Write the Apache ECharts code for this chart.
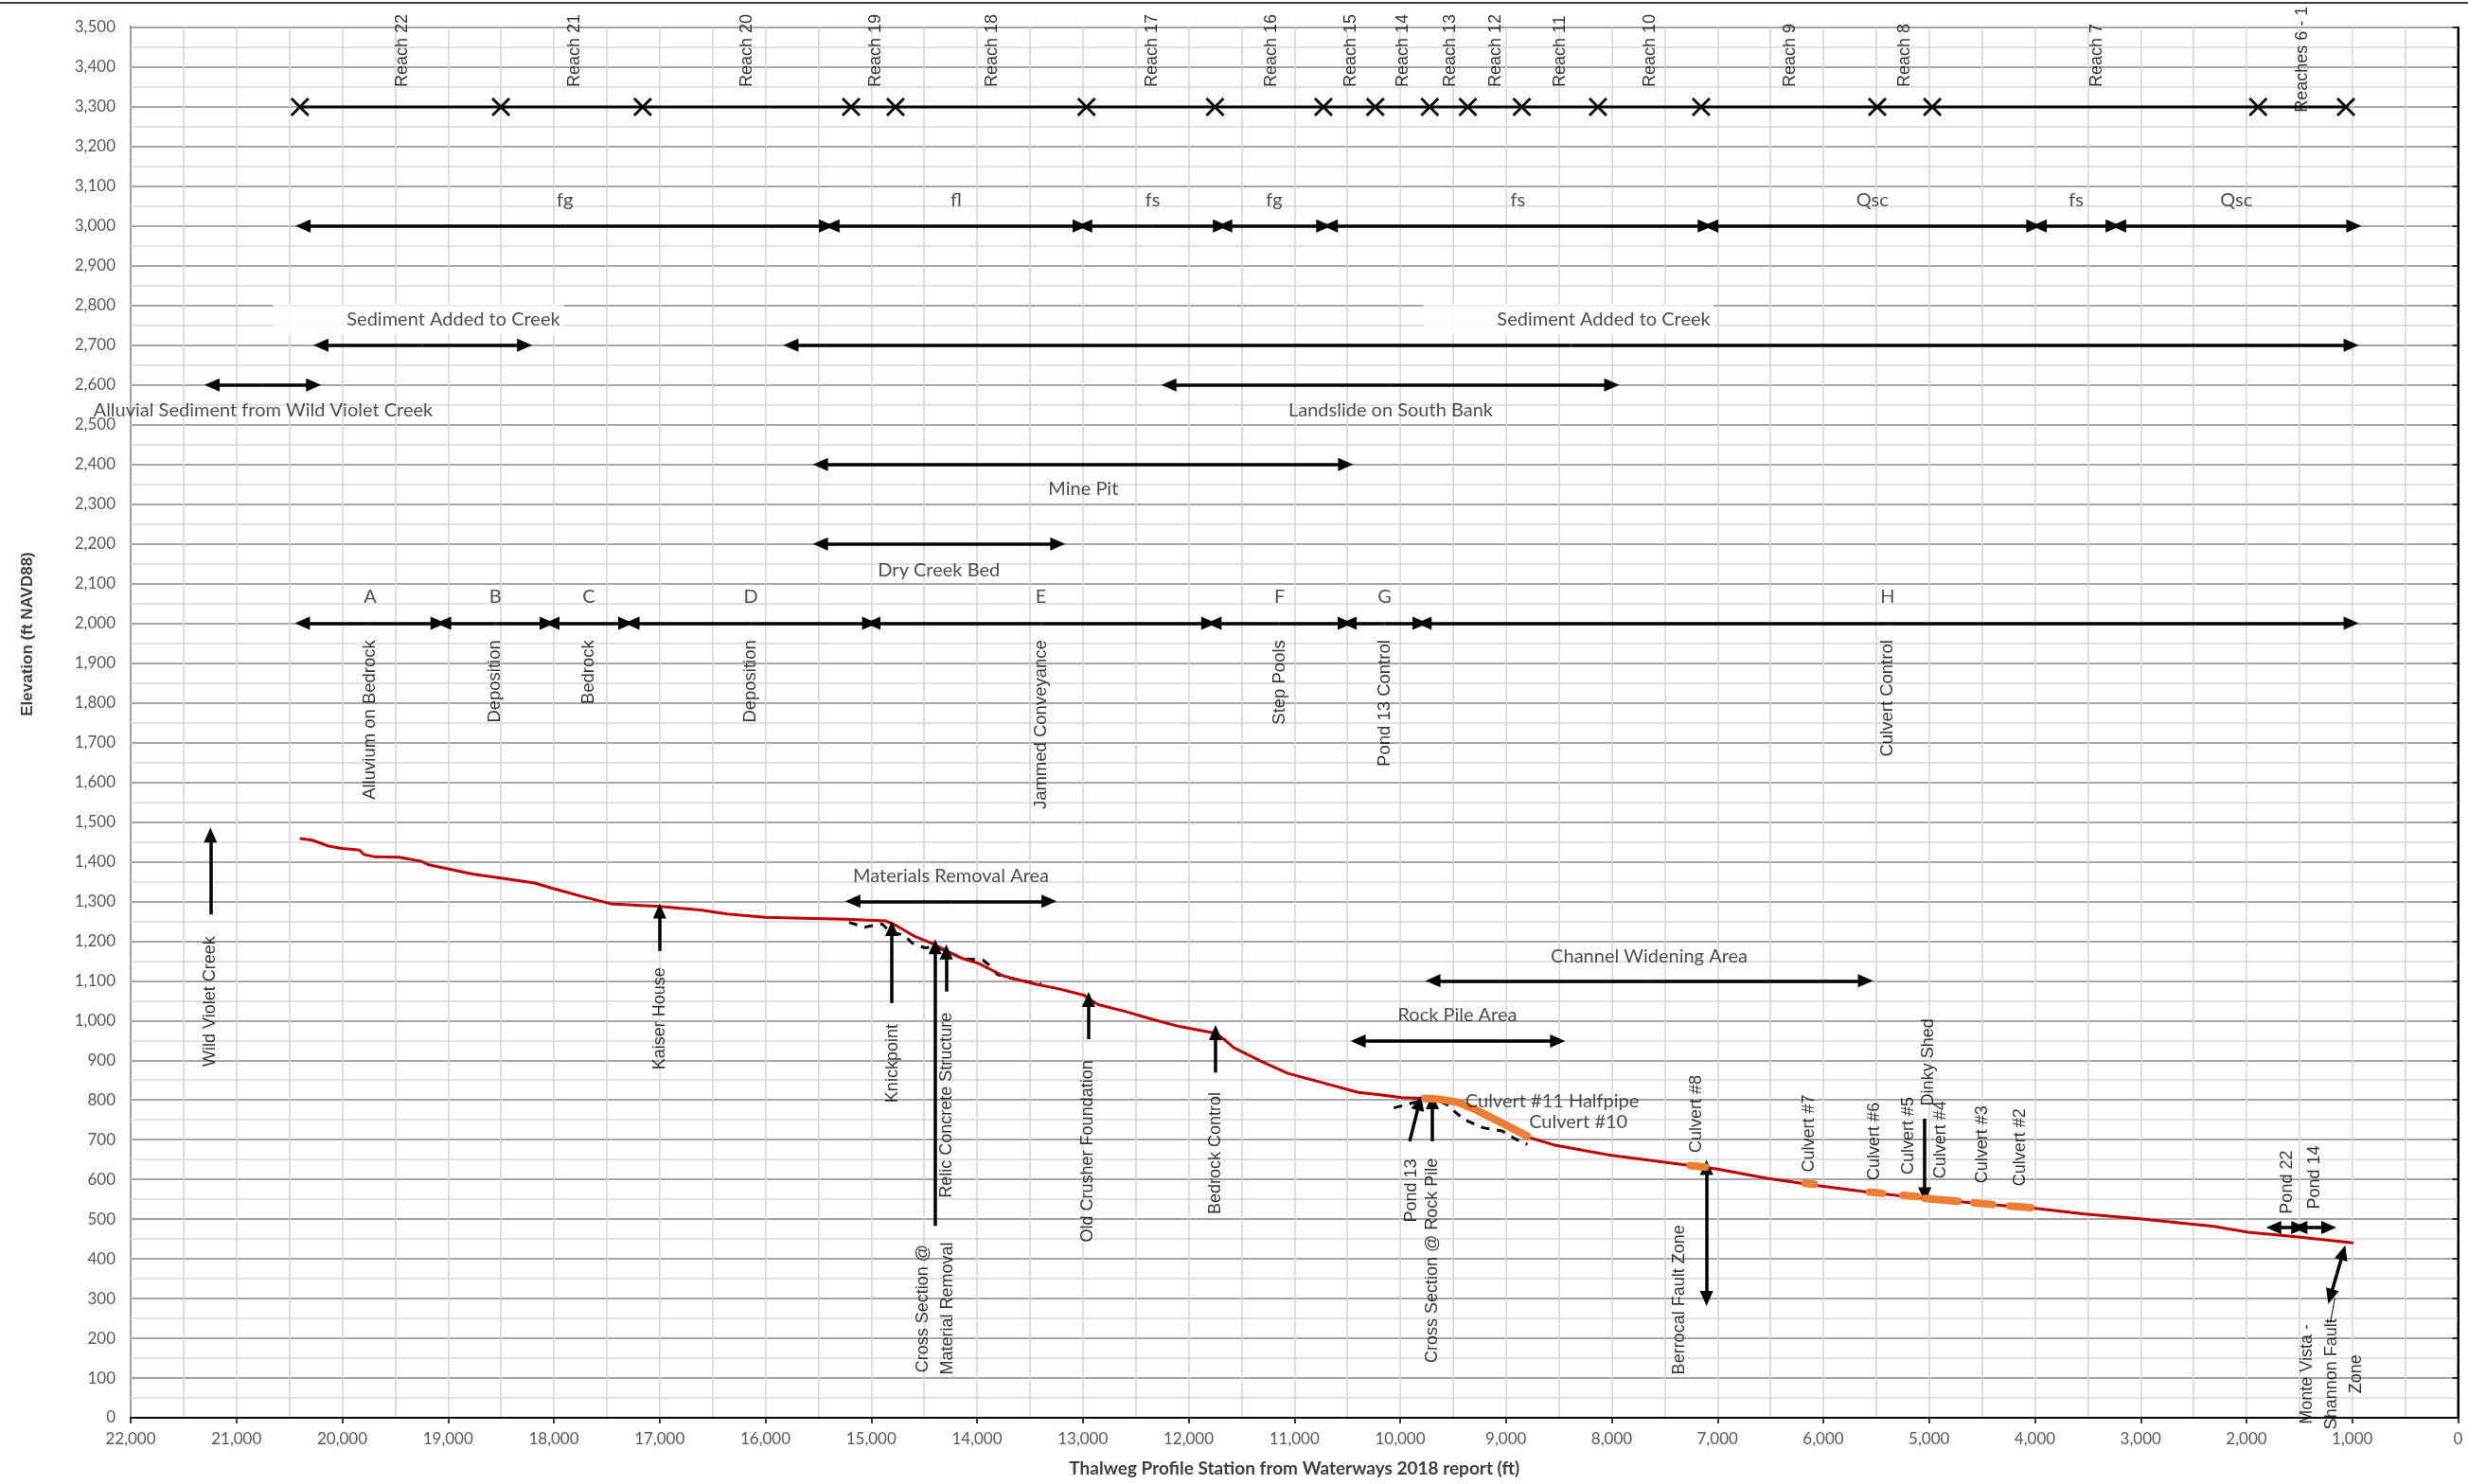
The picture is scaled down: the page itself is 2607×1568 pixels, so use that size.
<!DOCTYPE html>
<html><head><meta charset="utf-8">
<script src="https://cdn.jsdelivr.net/npm/echarts@6/dist/echarts.min.js"></script>
<style>html,body{margin:0;padding:0;background:#fff}#c{width:2607px;height:1568px}</style>
</head><body><div id="c"></div><script>
// ---------------- data ----------------
const profile = [[20400,1458],[20282,1454],[20128,1439],[20000,1433],[19872,1430],[19836,1429],[19795,1418],[19692,1412],[19462,1411],[19256,1401],[19180,1392],[19000,1382],[18769,1369],[18487,1358],[18180,1346],[18000,1332],[17744,1313],[17462,1294],[17128,1289],[17000,1287],[16615,1278],[16359,1268],[16000,1260],[15538,1257],[15240,1255],[14867,1251],[14762,1239],[14583,1211],[14404,1192],[14285,1175],[14136,1156],[13987,1144],[13838,1124],[13749,1112],[13450,1092],[13215,1079],[12988,1064],[12943,1054],[12853,1040],[12600,1023],[12344,1003],[12087,985],[11744,968],[11651,950],[11574,932],[11318,898],[11062,867],[10754,845],[10395,819],[10190,813],[9985,806],[9782,804],[9633,802],[9454,794],[9275,774],[9036,742],[8798,707],[8549,687],[8241,672],[8036,662],[7518,644],[7000,626],[6534,603],[6016,583],[5497,565],[5005,551],[4513,539],[3995,527],[3528,513],[3010,501],[2311,482],[1984,467],[1508,455],[990,440]];
const previousProfileA = [[15209,1247],[15061,1235],[14986,1239],[14896,1243],[14822,1223],[14688,1215],[14613,1195],[14494,1183],[14404,1186],[14285,1175],[14136,1156],[13943,1152],[13868,1136],[13808,1116],[13719,1109],[13570,1100],[13391,1092]];
const previousProfileB = [[10060,780],[9960,787],[9800,798],[9650,800],[9540,786],[9480,770],[9390,750],[9215,730],[9036,722],[8917,703],[8798,688]];
const culvertSegments = [
  [[9767,804],[9633,802],[9454,794],[9275,774],[9036,742],[8798,709]],
  [[7260,635],[7113,631]], [[6172,590],[6083,588]], [[5561,568],[5442,565]],
  [[5248,560],[5114,557]], [[5040,552],[4727,545]], [[4577,541],[4398,537]], [[4235,533],[4040,529]]
];

const reachLevel = 3300;
const reachBreaks = [20400,18500,17160,15190,14770,12965,11750,10725,10235,9720,9360,8850,8130,7155,5490,4970,1890,1060];
const reachNames = ['Reach 22','Reach 21','Reach 20','Reach 19','Reach 18','Reach 17','Reach 16','Reach 15','Reach 14','Reach 13','Reach 12','Reach 11','Reach 10','Reach 9','Reach 8','Reach 7','Reaches 6 - 1'];
const reachNameX = [19432,17803,16170,14960,13856,12340,11221,10466,9977,9525,9094,8487,7635,6314,5227,3415,1475];
const reachNameY = [3350,3350,3350,3350,3350,3350,3350,3350,3350,3350,3350,3350,3350,3350,3350,3350,3286];

const geologyLevel = 3000;
const geologyStart = [20370,15371,12982,11658,10660,7064,3959,3209];
const geologyEnd   = [15422,13024,11698,10722,7116,4010,3260,985];
const geologyNames = ['fg','fl','fs','fg','fs','Qsc','fs','Qsc'];
const geologyNameY = 3065;

const unitLevel = 2000;
const unitStart = [20377,19042,18018,17261,14984,11760,10482,9774];
const unitEnd   = [19094,18062,17320,15014,11809,10519,9811,1010];
const unitNames = ['A','B','C','D','E','F','G','H'];
const unitNameY = 2066;
const unitProcess = ['Alluvium on Bedrock','Deposition','Bedrock','Deposition','Jammed Conveyance','Step Pools','Pond 13 Control','Culvert Control'];
const unitProcessTop = 1958;

// area arrows: [from x, to x, elevation]
const areaArrows = [
  [20202,18276,2700],[15759,1010,2700],
  [21230,20270,2600],[12186,8000,2600],
  [15480,10515,2400],[15480,13236,2200],
  [15174,13319,1300],[9690,5601,1100],[10397,8511,948],
  [1743,1505,479],[1496,1221,479]
];
// two-headed slanted / vertical arrows: [x1,y1,x2,y2]
const doubleArrows = [[7104,630,7104,300],[1207,305,1087,416]];
// pointer arrows: tail [x,y] -> head [x,y]
const pointerArrows = [
  [21246,1267,21246,1467],[17000,1175,17000,1276],[14805,1044,14805,1232],
  [14395,483,14395,1186],[14290,1073,14290,1173],[12945,953,12945,1053],
  [11745,869,11745,970],[9910,696,9818,793],[9695,696,9695,796],[5041,753,5041,561]
];
const leaderLine = [[1207,240],[1165,300]];

// horizontal labels [text, x, y]
const areaLabels = [
  ['Alluvial Sediment from Wild Violet Creek',20748,2535],
  ['Landslide on South Bank',10090,2535],
  ['Mine Pit',12995,2338],
  ['Dry Creek Bed',14360,2134],
  ['Materials Removal Area',14246,1365],
  ['Rock Pile Area',9459,1013],
  ['Channel Widening Area',7646,1161],
  ['Culvert #11 Halfpipe',8563,796],
  ['Culvert #10',8316,744]
];
const sedimentLabels = [['Sediment Added to Creek',18949,2766],['Sediment Added to Creek',8076,2766]];

// vertical feature labels [text, x, centre y]
const featureLabels = [
  ['Wild Violet Creek',21246,1048],['Kaiser House',17000,1005],['Knickpoint',14800,892],
  ['Relic Concrete Structure',14282,787],['Cross Section @\nMaterial Removal',14390,275],
  ['Old Crusher Foundation',12950,671],['Bedrock Control',11745,666],['Pond 13',9895,572],
  ['Cross Section @ Rock Pile',9695,396],['Culvert #8',7197,765],['Berrocal Fault Zone',7363,297],
  ['Culvert #7',6130,716],['Culvert #6',5513,696],['Culvert #5',5197,710],['Dinky Shed',5005,895],
  ['Culvert #4',4886,700],['Culvert #3',4497,688],['Culvert #2',4140,681],
  ['Pond 22',1611,593],['Pond 14',1352,605],['Monte Vista -\nShannon Fault\nZone',1190,110]
];

// ---------------- chart ----------------
const ARIAL = 'Liberation Sans, Arial, sans-serif';
const CAL = 'Lato, Carlito, sans-serif';
const fmt = v => v.toLocaleString('en-US');

function arrowSeries(segs) {
  return {
    type: 'scatter', data: [], silent: true, z: 6,
    markLine: {
      silent: true, animation: false, symbol: ['none', 'triangle'], symbolSize: [14, 16], symbolOffset: [-8, 0],
      lineStyle: { color: '#000', width: 3.5, type: 'solid' },
      label: { show: false }, emphasis: { disabled: true },
      data: segs.map(s => [{ coord: [s[0], s[1]] }, { coord: [s[2], s[3]] }])
    }
  };
}
function labelSeries(items, label) {
  return {
    type: 'scatter', symbolSize: 1, silent: true, z: 10,
    itemStyle: { color: 'transparent' },
    data: items.map(d => ({ name: d[0], value: [d[1], d[2]] })),
    label: Object.assign({ show: true, formatter: '{b}', position: 'inside', color: '#000' }, label)
  };
}

// every double-headed arrow is drawn as two halves pointing out from its middle
const twoHeaded = [];
geologyStart.forEach((s, i) => twoHeaded.push([s, geologyLevel, geologyEnd[i], geologyLevel]));
unitStart.forEach((s, i) => twoHeaded.push([s, unitLevel, unitEnd[i], unitLevel]));
areaArrows.forEach(a => twoHeaded.push([a[0], a[2], a[1], a[2]]));
doubleArrows.forEach(a => twoHeaded.push(a));
const halves = [];
twoHeaded.forEach(a => {
  const mx = (a[0] + a[2]) / 2, my = (a[1] + a[3]) / 2;
  halves.push([mx, my, a[0], a[1]]);
  halves.push([mx, my, a[2], a[3]]);
});

const chart = echarts.init(document.getElementById('c'), null, { renderer: 'canvas' });
chart.setOption({
  animation: false,
  backgroundColor: '#fff',
  grid: { left: 138, right: 10.5, top: 29, bottom: 70, show: true, borderColor: '#000', borderWidth: 2 },
  xAxis: {
    type: 'value', min: 0, max: 22000, interval: 1000, inverse: true,
    name: 'Thalweg Profile Station from Waterways 2018 report (ft)', nameLocation: 'middle', nameGap: 44,
    nameTextStyle: { fontFamily: CAL, fontWeight: 'bold', fontSize: 19, color: '#404040' },
    axisLine: { lineStyle: { color: '#000', width: 2 } },
    axisTick: { show: true, length: 6, lineStyle: { color: '#000', width: 1.5 } },
    axisLabel: { formatter: fmt, margin: 14, fontFamily: CAL, fontSize: 17, color: '#595959' },
    splitLine: { show: true, lineStyle: { color: '#d4d4d4', width: 1.5 } },
    minorTick: { show: false, splitNumber: 2 },
    minorSplitLine: { show: true, lineStyle: { color: '#d4d4d4', width: 1.5 } }
  },
  yAxis: {
    type: 'value', min: 0, max: 3500, interval: 100,
    axisLine: { show: true, lineStyle: { color: '#000', width: 2 } },
    axisTick: { show: true, length: 6, lineStyle: { color: '#000', width: 1.5 } },
    axisLabel: { formatter: fmt, margin: 16, fontFamily: CAL, fontSize: 17, color: '#595959' },
    splitLine: { show: true, lineStyle: { color: '#a6a6a6', width: 2 } },
    minorTick: { show: false, splitNumber: 2 },
    minorSplitLine: { show: true, lineStyle: { color: '#d9d9d9', width: 1.5 } }
  },
  graphic: [
    { type: 'line', shape: { x1: 0, y1: 3, x2: 2607, y2: 3 }, style: { stroke: '#000', lineWidth: 1.5 }, silent: true },
    { type: 'text', x: 29, y: 670, rotation: Math.PI / 2, silent: true,
      style: { text: 'Elevation (ft NAVD88)', font: 'bold 17px ' + ARIAL, fill: '#404040', align: 'center', verticalAlign: 'middle' } }
  ],
  series: [
    { type: 'line', data: previousProfileA, showSymbol: false, silent: true, z: 3,
      lineStyle: { color: '#000', width: 3, type: [9, 8] } },
    { type: 'line', data: previousProfileB, showSymbol: false, silent: true, z: 3,
      lineStyle: { color: '#000', width: 3, type: [9, 8] } },
    { type: 'line', data: profile, showSymbol: false, silent: true, z: 4,
      lineStyle: { color: '#c00000', width: 3 } },
    { type: 'lines', coordinateSystem: 'cartesian2d', polyline: true, silent: true, z: 5,
      data: culvertSegments.map(c => ({ coords: c })),
      lineStyle: { color: '#ed7d31', width: 8, cap: 'round', join: 'round', opacity: 1 } },
    { type: 'lines', coordinateSystem: 'cartesian2d', polyline: true, silent: true, z: 5,
      data: [{ coords: leaderLine }], lineStyle: { color: '#000', width: 1, opacity: 1 } },
    { type: 'line', data: reachBreaks.map(x => [x, reachLevel]), silent: true, z: 6,
      symbol: 'path://M0,1L1,0L5,4L9,0L10,1L6,5L10,9L9,10L5,6L1,10L0,9L4,5Z', symbolSize: 20,
      showAllSymbol: true, itemStyle: { color: '#000' }, lineStyle: { color: '#000', width: 3 } },
    arrowSeries(halves),
    arrowSeries(pointerArrows),
    labelSeries(reachNames.map((n, i) => [n, reachNameX[i], reachNameY[i]]),
      { rotate: 90, align: 'left', verticalAlign: 'middle', fontFamily: ARIAL, fontSize: 18 }),
    labelSeries(geologyNames.map((n, i) => [n, (geologyStart[i] + geologyEnd[i]) / 2, geologyNameY]),
      { align: 'center', verticalAlign: 'middle', fontFamily: CAL, fontSize: 20, color: '#222' }),
    labelSeries(unitNames.map((n, i) => [n, (unitStart[i] + unitEnd[i]) / 2, unitNameY]),
      { align: 'center', verticalAlign: 'middle', fontFamily: CAL, fontSize: 20, color: '#222' }),
    labelSeries(unitProcess.map((n, i) => [n, (unitStart[i] + unitEnd[i]) / 2, unitProcessTop]),
      { rotate: 90, align: 'right', verticalAlign: 'middle', fontFamily: ARIAL, fontSize: 18.5 }),
    labelSeries(areaLabels,
      { align: 'center', verticalAlign: 'middle', fontFamily: CAL, fontSize: 20, color: '#222' }),
    labelSeries(sedimentLabels,
      { align: 'center', verticalAlign: 'middle', fontFamily: CAL, fontSize: 20, color: '#222',
        backgroundColor: '#fff', padding: [6, 4, 6, 78], offset: [-37, 0] }),
    labelSeries(featureLabels,
      { rotate: 90, align: 'center', verticalAlign: 'middle', fontFamily: ARIAL, fontSize: 18, lineHeight: 26 })
  ]
});
</script></body></html>
